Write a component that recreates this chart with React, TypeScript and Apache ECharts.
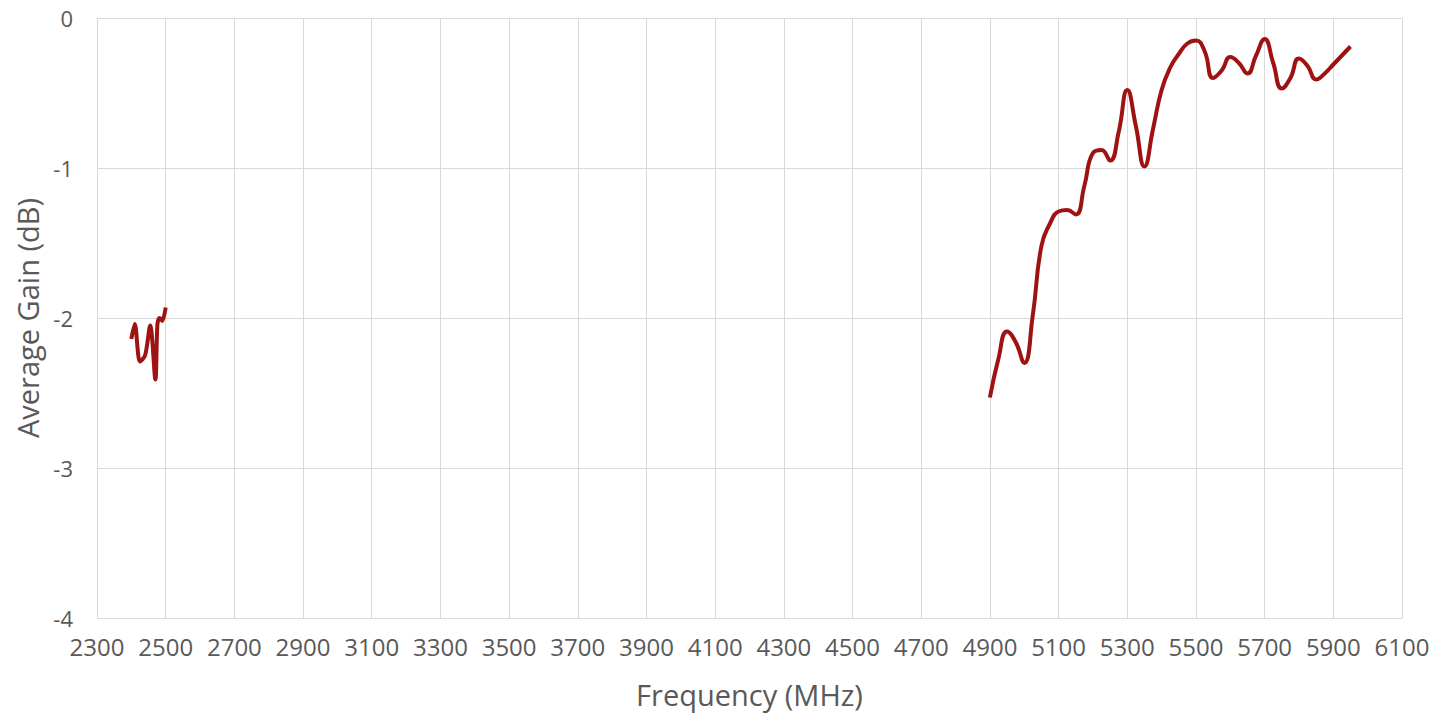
import React, { useEffect, useRef } from "react";
import * as echarts from "echarts";

const freqLow = [2400, 2410, 2425, 2440, 2455, 2470, 2476, 2482, 2490, 2500];
const gainLow = [-2.14, -2.04, -2.29, -2.25, -2.05, -2.41, -2.04, -2.0, -2.02, -1.93];

const freqHigh = [
  4900, 4925, 4950, 4975, 5000, 5025, 5050, 5075, 5100, 5125, 5150, 5175, 5200, 5225, 5250,
  5275, 5300, 5325, 5350, 5375, 5400, 5425, 5450, 5475, 5500, 5525, 5550, 5575, 5600, 5625,
  5650, 5675, 5700, 5725, 5750, 5775, 5800, 5825, 5850, 5875, 5900, 5925, 5950,
];
const gainHigh = [
  -2.53, -2.27, -2.09, -2.16, -2.3, -1.98, -1.52, -1.37, -1.29, -1.28, -1.31, -1.12, -0.9, -0.88,
  -0.95, -0.76, -0.48, -0.72, -0.99, -0.74, -0.48, -0.33, -0.24, -0.17, -0.15, -0.22, -0.4,
  -0.35, -0.26, -0.3, -0.37, -0.25, -0.14, -0.3, -0.47, -0.4, -0.27, -0.32, -0.41, -0.37, -0.31,
  -0.25, -0.19,
];

const xMin = 2300;
const xMax = 6100;
const xStep = 200;
const yMin = -4;
const yMax = 0;
const yStep = 1;

const xTitle = "Frequency (MHz)";
const yTitle = "Average Gain (dB)";

export default function App() {
  const ref = useRef<HTMLDivElement>(null);
  useEffect(() => {
    document.body.style.margin = "0";
    if (!ref.current) return;
    const chart = echarts.init(ref.current, null, { renderer: "svg" });
    const lineColor = "#9E1212";
    const textColor = "#595959";
    const gridColor = "#d9d9d9";
    const font = "'Open Sans', sans-serif";
    chart.setOption({
      animation: false,
      backgroundColor: "#ffffff",
      grid: { left: 97, right: 49, top: 18, bottom: 102, containLabel: false },
      xAxis: {
        type: "value",
        min: xMin,
        max: xMax,
        interval: xStep,
        name: xTitle,
        nameLocation: "middle",
        nameGap: 62,
        nameTextStyle: { color: textColor, fontSize: 29, fontFamily: font },
        axisLine: { show: true, lineStyle: { color: gridColor, width: 1 } },
        axisTick: { show: false },
        axisLabel: {
          color: textColor,
          fontSize: 24,
          fontFamily: font,
          margin: 16,
          formatter: (v: number) => String(v),
        },
        splitLine: { show: true, lineStyle: { color: gridColor, width: 1 } },
      },
      yAxis: {
        type: "value",
        min: yMin,
        max: yMax,
        interval: yStep,
        name: yTitle,
        nameLocation: "middle",
        nameGap: 55,
        nameTextStyle: { color: textColor, fontSize: 29, fontFamily: font },
        axisLine: { show: true, lineStyle: { color: gridColor, width: 1 } },
        axisTick: { show: false },
        axisLabel: { color: textColor, fontSize: 22, fontFamily: font, margin: 24 },
        splitLine: { show: true, lineStyle: { color: gridColor, width: 1 } },
      },
      series: [
        {
          type: "line",
          data: freqLow.map((f, i) => [f, gainLow[i]]),
          smooth: 0.3,
          showSymbol: false,
          symbol: "none",
          lineStyle: { color: lineColor, width: 4 },
        },
        {
          type: "line",
          data: freqHigh.map((f, i) => [f, gainHigh[i]]),
          smooth: 0.5,
          showSymbol: false,
          symbol: "none",
          lineStyle: { color: lineColor, width: 4 },
        },
      ],
    });
    return () => chart.dispose();
  }, []);
  return <div ref={ref} style={{ width: 1451, height: 720 }} />;
}
